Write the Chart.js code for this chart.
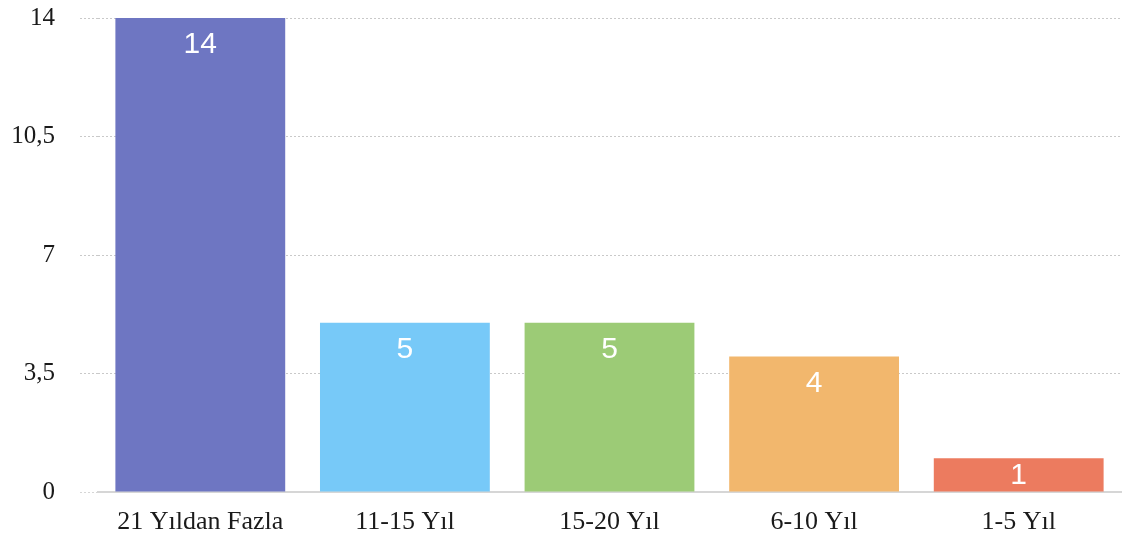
<!DOCTYPE html>
<html>
<head>
<meta charset="utf-8">
<script src="https://cdn.jsdelivr.net/npm/chart.js@4"></script>
<style>
  html, body { margin: 0; padding: 0; background: #fff; }
  #wrap { width: 1134px; height: 540px; }
</style>
</head>
<body>
<div id="wrap"><canvas id="deneyimChart" width="1134" height="540"></canvas></div>
<script>
// chart values
const categories = ['21 Yıldan Fazla', '11-15 Yıl', '15-20 Yıl', '6-10 Yıl', '1-5 Yıl'];
const counts = [14, 5, 5, 4, 1];
const barColors = ['#6e76c2', '#77c9f8', '#9ccb76', '#f2b76d', '#ec7b5f'];
const yTicks = [0, 3.5, 7, 10.5, 14];

const serif = '"Liberation Serif", "Times New Roman", serif';

// white value labels at the top of each bar (kept inside short bars)
const valueLabels = {
    id: 'valueLabels',
    afterDatasetsDraw(chart) {
        const ctx = chart.ctx;
        const meta = chart.getDatasetMeta(0);
        ctx.save();
        ctx.fillStyle = '#ffffff';
        ctx.font = '30px "Liberation Sans", Arial, sans-serif';
        ctx.textAlign = 'center';
        ctx.textBaseline = 'top';
        meta.data.forEach((bar, i) => {
            const y = Math.min(bar.y + 12, bar.base - 31);
            ctx.fillText(String(counts[i]), bar.x, y);
        });
        ctx.restore();
    }
};

const ctx = document.getElementById('deneyimChart').getContext('2d');
new Chart(ctx, {
    type: 'bar',
    data: {
        labels: categories,
        datasets: [{
            data: counts,
            backgroundColor: barColors,
            borderWidth: 0,
            categoryPercentage: 1,
            barPercentage: 0.83
        }]
    },
    options: {
        responsive: false,
        animation: false,
        layout: { padding: { top: 18, right: 13, left: 0, bottom: 0 } },
        plugins: { legend: { display: false }, tooltip: { enabled: false } },
        scales: {
            x: {
                afterFit(scale) { scale.height = 48; scale.paddingLeft = 0; scale.paddingRight = 0; },
                grid: { display: false, drawTicks: false },
                border: { display: true, color: '#d6d6d6', width: 2 },
                ticks: {
                    color: '#1a1a1a',
                    padding: 15,
                    font: { family: serif, size: 26 }
                }
            },
            y: {
                min: 0,
                max: 14,
                afterBuildTicks(scale) {
                    scale.ticks = yTicks.map(v => ({ value: v }));
                },
                afterFit(scale) {
                    scale.width = 98;
                    scale.paddingTop = 0;
                    scale.paddingBottom = 0;
                },
                grid: {
                    color: '#c9c9c9',
                    lineWidth: 1,
                    tickLength: 18,
                    tickColor: ctx => ctx.tick && ctx.tick.value === 0 ? '#d6d6d6' : '#c9c9c9',
                    tickBorderDash: [2, 2]
                },
                border: { display: false, dash: [2, 2] },
                ticks: {
                    color: '#1a1a1a',
                    padding: 25,
                    font: { family: serif, size: 25 },
                    callback: v => String(v).replace('.', ',')
                }
            }
        }
    },
    plugins: [valueLabels]
});
</script>
</body>
</html>
